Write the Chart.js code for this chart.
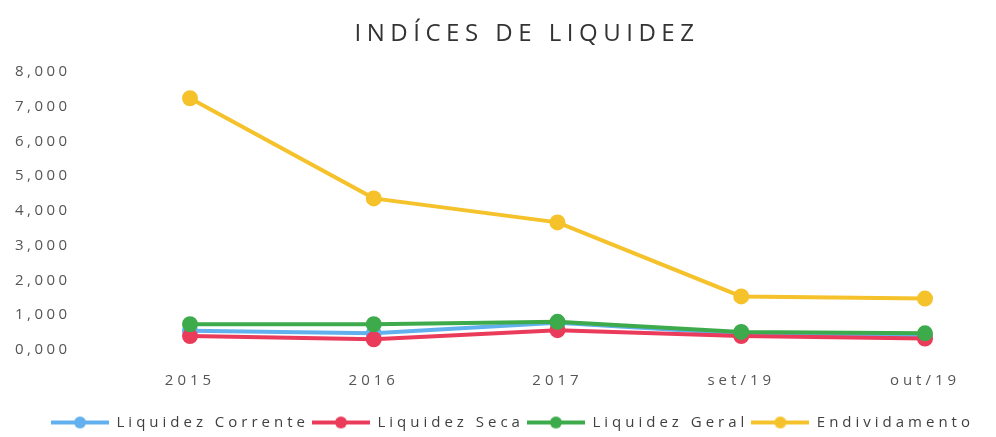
<!DOCTYPE html>
<html>
<head>
<meta charset="utf-8">
<script src="https://cdn.jsdelivr.net/npm/chart.js@4"></script>
<style>
  html, body { margin: 0; padding: 0; background: #ffffff; }
  #wrap { width: 996px; height: 437px; }
</style>
</head>
<body>
<div id="wrap"><canvas id="liquidez"></canvas></div>
<script>
var labels = ['2015', '2016', '2017', 'set/19', 'out/19'];
var liquidezCorrente = [0.55, 0.48, 0.78, 0.47, 0.42];
var liquidezSeca = [0.40, 0.31, 0.57, 0.40, 0.33];
var liquidezGeral = [0.74, 0.74, 0.81, 0.52, 0.48];
var endividamento = [7.24, 4.36, 3.67, 1.54, 1.48];

var cores = ['#62b1ee', '#ea3c5a', '#3dab4b', '#f5c22b'];

// marcador da legenda: linha com bolinha, igual ao do Excel
function marcador(cor) {
  var c = document.createElement('canvas');
  c.width = 58; c.height = 14;
  var g = c.getContext('2d');
  g.strokeStyle = cor;
  g.lineWidth = 4;
  g.beginPath(); g.moveTo(0, 7); g.lineTo(58, 7); g.stroke();
  g.fillStyle = cor;
  g.beginPath(); g.arc(29, 7, 6, 0, 2 * Math.PI); g.fill();
  return c;
}

// ordem: a última série fica por cima (como no Excel)
function serie(nome, dados, cor, ordem) {
  return {
    label: nome,
    data: dados,
    borderColor: cor,
    backgroundColor: cor,
    borderWidth: 4,
    pointRadius: 6,
    pointHoverRadius: 6,
    tension: 0,
    order: ordem
  };
}

// texto espaçado (letterSpacing do canvas)
function envolver(obj, metodo, esp) {
  if (!obj || obj['_esp_' + metodo]) return;
  var orig = obj[metodo];
  obj[metodo] = function () {
    var ctx = this.ctx;
    var antes = ctx.letterSpacing;
    ctx.letterSpacing = esp;
    orig.apply(this, arguments);
    ctx.letterSpacing = antes;
  };
  obj['_esp_' + metodo] = true;
}

var espacamento = {
  id: 'espacamento',
  beforeLayout: function (chart) { chart.ctx.letterSpacing = '4px'; },
  afterLayout: function (chart) {
    chart.ctx.letterSpacing = '0px';
    // título e legenda um pouco à direita, como no original
    chart.titleBlock.left = 58;
    chart.legend.left = 29;
    chart.legend.right = 996;
    envolver(chart.titleBlock, 'draw', '5.5px');
    envolver(chart.legend, 'draw', '4px');
    envolver(chart.scales.x, 'drawLabels', '4px');
    envolver(chart.scales.y, 'drawLabels', '3.5px');
  }
};

var ctx = document.getElementById('liquidez');
var grafico = new Chart(ctx, {
  type: 'line',
  data: {
    labels: labels,
    datasets: [
      serie('Liquidez Corrente', liquidezCorrente, cores[0], 4),
      serie('Liquidez Seca', liquidezSeca, cores[1], 3),
      serie('Liquidez Geral', liquidezGeral, cores[2], 2),
      serie('Endividamento', endividamento, cores[3], 1)
    ]
  },
  plugins: [espacamento],
  options: {
    responsive: true,
    maintainAspectRatio: false,
    animation: false,
    layout: { padding: { left: 15, right: 0, top: 10, bottom: -3 } },
    plugins: {
      title: {
        display: true,
        text: 'INDÍCES DE LIQUIDEZ',
        color: '#333333',
        font: { family: 'Open Sans', size: 24, weight: 'normal' },
        padding: { top: 10, bottom: 23 }
      },
      legend: {
        position: 'bottom',
        labels: {
          usePointStyle: true,
          pointStyleWidth: 58,
          color: '#404040',
          font: { family: 'Open Sans', size: 15 },
          padding: 3,
          generateLabels: function (chart) {
            return chart.data.datasets.map(function (ds, i) {
              return {
                text: ds.label,
                pointStyle: marcador(ds.borderColor),
                fillStyle: ds.borderColor,
                strokeStyle: ds.borderColor,
                lineWidth: 0,
                datasetIndex: i,
                fontColor: '#404040'
              };
            });
          }
        }
      },
      tooltip: { enabled: false }
    },
    scales: {
      x: {
        offset: false,
        grid: { display: false, drawTicks: false },
        border: { display: false },
        ticks: {
          color: '#555555',
          font: { family: 'Open Sans', size: 15 },
          padding: 22
        }
      },
      y: {
        min: 0,
        max: 8,
        grid: { display: false },
        border: { display: false },
        afterFit: function (scale) { scale.width = 175; },
        ticks: {
          stepSize: 1,
          crossAlign: 'far',
          color: '#555555',
          font: { family: 'Open Sans', size: 15 },
          callback: function (v) { return v.toFixed(3).replace('.', ','); }
        }
      },
      margem: {
        position: 'right',
        grid: { display: false },
        border: { display: false },
        ticks: { display: false },
        afterFit: function (scale) { scale.width = 71; }
      }
    }
  }
});
</script>
</body>
</html>
